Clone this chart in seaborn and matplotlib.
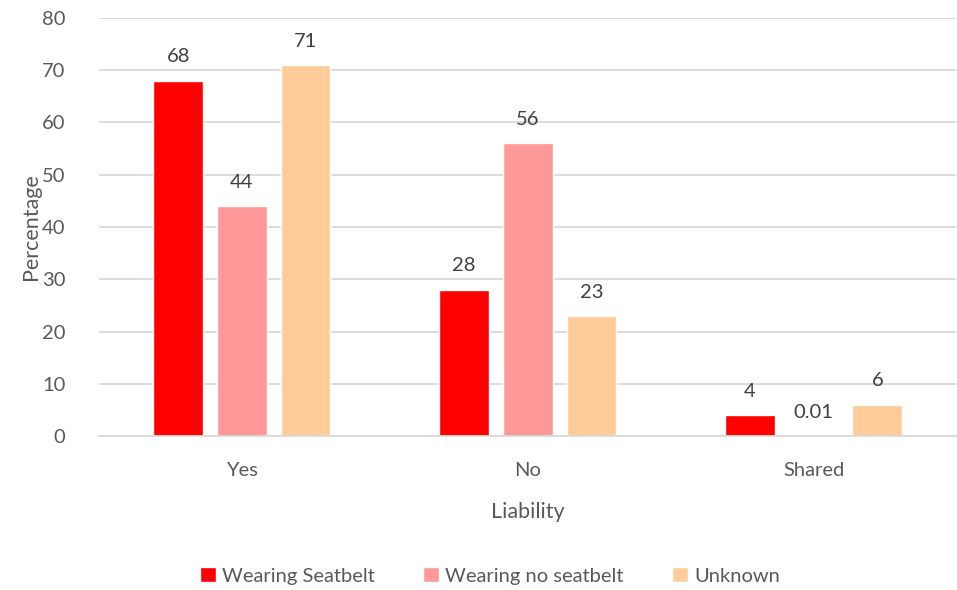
import matplotlib
matplotlib.use("Agg")
import matplotlib.pyplot as plt
import seaborn as sns
import pandas as pd

# Liability share by seatbelt status
categories = ["Yes", "No", "Shared"]
series_names = ["Wearing Seatbelt", "Wearing no seatbelt", "Unknown"]
seatbelt = [68, 28, 4]
no_seatbelt = [44, 56, 0.01]
unknown = [71, 23, 6]
y_ticks = [0, 10, 20, 30, 40, 50, 60, 70, 80]

colors = ["#FF0000", "#FF9999", "#FFCC99"]
text_color = "#595959"
grid_color = "#D9D9D9"

rows = []
for name, vals in zip(series_names, [seatbelt, no_seatbelt, unknown]):
    for cat, v in zip(categories, vals):
        rows.append({"Liability": cat, "Percentage": v, "Status": name})
df = pd.DataFrame(rows)

sns.set_theme(style="white")
plt.rcParams["font.family"] = ["Lato", "DejaVu Sans"]

fig = plt.figure(figsize=(9.57, 5.90), dpi=100)
ax = fig.add_axes([0.1034, 0.261, 0.896, 0.7085])

sns.barplot(
    data=df, x="Liability", y="Percentage", hue="Status",
    order=categories, hue_order=series_names, palette=colors,
    width=0.669, gap=0.22, saturation=1, ax=ax, legend=True,
)

for container in ax.containers:
    ax.bar_label(container, labels=[f"{v:g}" for v in container.datavalues],
                 padding=11, fontsize=14.5, color="#404040")

ax.set_ylim(0, 80)
ax.set_xlim(-0.5, 2.5)
ax.set_yticks(y_ticks)
ax.yaxis.grid(True, color=grid_color, linewidth=1.3)
ax.set_axisbelow(True)
for side in ["top", "right", "left"]:
    ax.spines[side].set_visible(False)
ax.spines["bottom"].set_color(grid_color)
ax.spines["bottom"].set_linewidth(1.3)
ax.tick_params(axis="both", length=0, labelsize=14.5, labelcolor=text_color)
ax.tick_params(axis="y", pad=24)
ax.tick_params(axis="x", pad=19)
ax.set_xlabel("Liability", fontsize=15.5, color=text_color, labelpad=16)
ax.set_ylabel("Percentage", fontsize=15.5, color=text_color, labelpad=1)

handles, labels = ax.get_legend_handles_labels()
ax.get_legend().remove()
fig.legend(handles, labels, loc="center", bbox_to_anchor=(0.512, 0.024),
           ncol=3, frameon=False, fontsize=14.5, labelcolor=text_color,
           handlelength=0.8, handleheight=0.8, handletextpad=0.3,
           columnspacing=2.4)

fig.savefig("out.png", dpi=100)
